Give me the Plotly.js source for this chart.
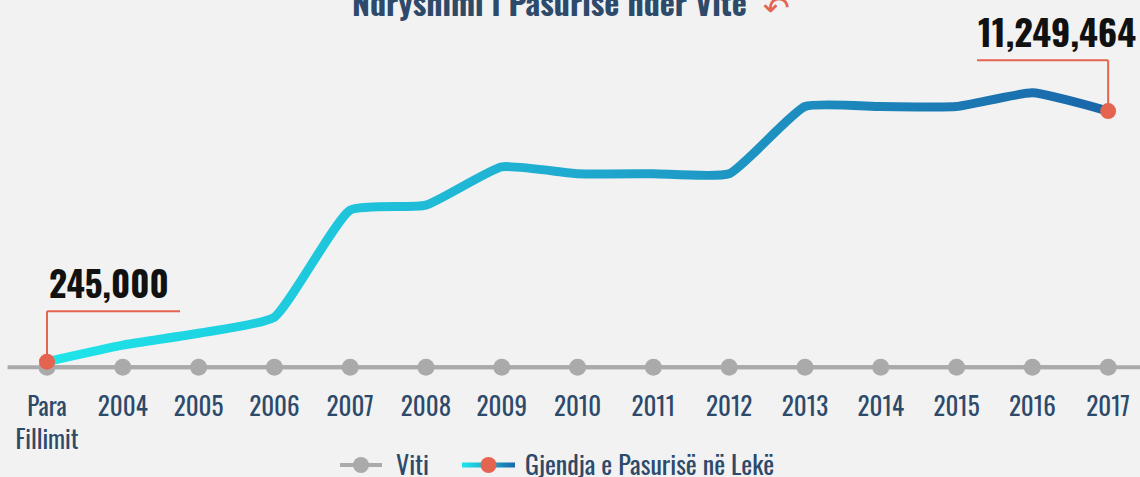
<!DOCTYPE html>
<html>
<head>
<meta charset="utf-8">
<script src="https://cdn.plot.ly/plotly-3.0.1.min.js"></script>
<style>
html,body{margin:0;padding:0;background:#f2f2f2;}
#chart{width:1140px;height:477px;}
</style>
</head>
<body>
<div id="chart"></div>
<script>
const categories = ['Para<br>Fillimit','2004','2005','2006','2007','2008','2009','2010','2011','2012','2013','2014','2015','2016','2017'];
const wealth = [245000, 970000, 1490000, 2200000, 6900000, 7120000, 8800000, 8500000, 8500000, 8500000, 11450000, 11450000, 11450000, 12050000, 11249464];
const baseline = [0,0,0,0,0,0,0,0,0,0,0,0,0,0,0];
const seriesNames = ['Viti', 'Gjendja e Pasurisë në Lekë'];
const firstLabel = '245,000';
const lastLabel = '11,249,464';
const titleText = 'Ndryshimi i Pasurisë nder Vite';

const FONT = "Oswald, 'Liberation Sans Narrow', 'DejaVu Sans Condensed', 'Roboto Condensed', sans-serif";
const NAVY = '#2e4a6b';
const GRAY = '#aaaaaa';
const RED = '#e4644f';
const n = categories.length;
const idx = categories.map((_, i) => i);
const last = n - 1;

const traces = [
  { x: idx, y: baseline, name: seriesNames[0], mode: 'lines+markers',
    line: {color: GRAY, width: 4}, marker: {color: GRAY, size: 17}, hoverinfo: 'skip' },
  { x: idx, y: wealth, name: seriesNames[1], mode: 'lines', showlegend: false,
    line: {color: '#1fa8cc', width: 9, shape: 'spline', smoothing: 0.45}, hoverinfo: 'skip' },
  { x: [idx[0], idx[last]], y: [wealth[0], wealth[last]], mode: 'markers', showlegend: false,
    marker: {color: RED, size: 16}, hoverinfo: 'skip' },
  { x: [null], y: [null], name: seriesNames[1], mode: 'lines+markers',
    line: {color: '#1fa8cc', width: 5}, marker: {color: RED, size: 17} }
];

const layout = {
  width: 1140, height: 477,
  paper_bgcolor: '#f2f2f2', plot_bgcolor: '#f2f2f2',
  margin: {l: 0, r: 0, t: 20, b: 87, autoexpand: false},
  font: {family: FONT, color: NAVY, size: 22},
  title: {text: '<b>' + titleText + '</b>', font: {family: FONT, size: 32, color: NAVY},
          x: 0.482, xanchor: 'center', y: 0.99, yanchor: 'middle', yref: 'container'},
  xaxis: { type: 'linear', range: [-0.62, 14.42], tickmode: 'array', tickvals: idx, ticktext: categories,
           showgrid: false, zeroline: false, showline: false, ticks: '', ticklen: 0, automargin: false,
           tickfont: {family: FONT, size: 25, color: NAVY}, fixedrange: true },
  yaxis: { range: [-1000000, 15250000], showgrid: false, zeroline: false, showline: false,
           showticklabels: false, fixedrange: true, automargin: false },
  showlegend: true,
  legend: { orientation: 'h', x: 0.49, xanchor: 'center', xref: 'container', y: 0.025, yanchor: 'middle', yref: 'container',
            font: {family: FONT, size: 26, color: NAVY}, bgcolor: 'rgba(0,0,0,0)' },
  shapes: [
    {type: 'line', layer: 'below', xref: 'x', yref: 'y', x0: -0.52, x1: 14.42, y0: 0, y1: 0,
     line: {color: GRAY, width: 4}},
    {type: 'line', xref: 'x', yref: 'y', x0: idx[0], x1: idx[0], y0: wealth[0], y1: 2460000,
     line: {color: RED, width: 2}},
    {type: 'line', xref: 'x', yref: 'y', x0: idx[0], x1: 1.755, y0: 2460000, y1: 2460000,
     line: {color: RED, width: 2}},
    {type: 'line', xref: 'x', yref: 'y', x0: idx[last], x1: idx[last], y0: wealth[last], y1: 13480000,
     line: {color: RED, width: 2}},
    {type: 'line', xref: 'x', yref: 'y', x0: 12.27, x1: idx[last], y0: 13480000, y1: 13480000,
     line: {color: RED, width: 2}}
  ],
  annotations: [
    {x: idx[0], y: 2520000, xref: 'x', yref: 'y', xanchor: 'left', yanchor: 'bottom', showarrow: false,
     text: '<b>' + firstLabel + '</b>', font: {family: FONT, size: 35, color: '#111111'}},
    {x: 14.39, y: 13540000, xref: 'x', yref: 'y', xanchor: 'right', yanchor: 'bottom', showarrow: false,
     text: '<b>' + lastLabel + '</b>', font: {family: FONT, size: 36, color: '#111111'}},
    {x: 776/1140, y: 1.033, xref: 'paper', yref: 'paper', xanchor: 'center', yanchor: 'middle', showarrow: false,
     text: '↶', font: {family: 'DejaVu Sans', size: 32, color: RED}}
  ]
};

function addGradient(svg, id, x1, x2) {
  const ns = 'http://www.w3.org/2000/svg';
  let defs = svg.querySelector('defs');
  if (!defs) { defs = document.createElementNS(ns, 'defs'); svg.insertBefore(defs, svg.firstChild); }
  const g = document.createElementNS(ns, 'linearGradient');
  g.setAttribute('id', id);
  g.setAttribute('gradientUnits', 'userSpaceOnUse');
  g.setAttribute('x1', x1); g.setAttribute('x2', x2);
  g.setAttribute('y1', 0); g.setAttribute('y2', 0);
  [['0', '#1ee6ea'], ['0.45', '#1fb0d2'], ['1', '#1a66a9']].forEach(([o, c]) => {
    const s = document.createElementNS(ns, 'stop');
    s.setAttribute('offset', o); s.setAttribute('stop-color', c);
    g.appendChild(s);
  });
  defs.appendChild(g);
}

// legend symbol layout: [absolute left of symbol, symbol width, gap to text]
const legendItems = [[340, 42, 14], [462, 53, 10]];

const gd = document.getElementById('chart');
Plotly.newPlot(gd, traces, layout, {displayModeBar: false, staticPlot: true}).then(() => {
  const svg = gd.querySelector('svg.main-svg');
  const xa = gd._fullLayout.xaxis;
  addGradient(svg, 'lineGrad', xa.l2p(0), xa.l2p(last));
  addGradient(svg, 'legGrad', 0, legendItems[1][1]);
  const tr = gd.querySelectorAll('.scatterlayer .trace');
  const p = tr[1].querySelector('path.js-line');
  if (p) p.style.stroke = 'url(#lineGrad)';

  const legendEl = gd.querySelector('.legend');
  if (legendEl) {
    legendEl.removeAttribute('clip-path');
    legendEl.querySelectorAll('[clip-path]').forEach(e => e.removeAttribute('clip-path'));
  }
  const legs = gd.querySelectorAll('.legend .traces');
  legs.forEach((g, i) => {
    const cfg = legendItems[i];
    if (!cfg) return;
    const [absLeft, w, gap] = cfg;
    const ctm = g.parentNode.getCTM();
    const m = /translate\(\s*([-\d.]+)[ ,]+([-\d.]+)\s*\)/.exec(g.getAttribute('transform') || '');
    const ty = m ? parseFloat(m[2]) : 0;
    g.setAttribute('transform', 'translate(' + (absLeft - ctm.e) + ',' + ty + ')');
    const lp = g.querySelector('path.js-line');
    if (lp) {
      lp.setAttribute('d', 'M0,0h' + w);
      if (i === 1) lp.style.stroke = 'url(#legGrad)';
    }
    const pt = g.querySelector('.legendpoints path.scatterpts');
    if (pt) pt.setAttribute('transform', 'translate(' + (w / 2) + ',0)');
    const tx = g.querySelector('text.legendtext');
    if (tx) {
      tx.setAttribute('x', w + gap);
      tx.querySelectorAll('tspan.line').forEach(t => t.setAttribute('x', w + gap));
    }
  });
});
</script>
</body>
</html>
